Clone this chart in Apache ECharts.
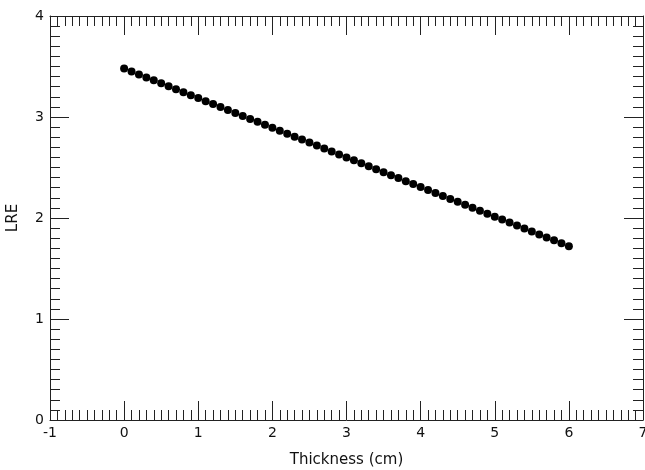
<!DOCTYPE html>
<html>
<head>
<meta charset="utf-8">
<script src="https://cdn.jsdelivr.net/npm/echarts@6/dist/echarts.min.js"></script>
<style>
html,body{margin:0;padding:0;background:#fff;}
#chart{width:645px;height:470px;}
</style>
</head>
<body>
<div id="chart"></div>
<script>
// Data
var thickness = [0.0,0.1,0.2,0.3,0.4,0.5,0.6,0.7,0.8,0.9,
  1.0,1.1,1.2,1.3,1.4,1.5,1.6,1.7,1.8,1.9,
  2.0,2.1,2.2,2.3,2.4,2.5,2.6,2.7,2.8,2.9,
  3.0,3.1,3.2,3.3,3.4,3.5,3.6,3.7,3.8,3.9,
  4.0,4.1,4.2,4.3,4.4,4.5,4.6,4.7,4.8,4.9,
  5.0,5.1,5.2,5.3,5.4,5.5,5.6,5.7,5.8,5.9,6.0];
var lre = [3.480,3.451,3.421,3.392,3.363,3.333,3.304,3.275,3.245,3.216,
  3.187,3.157,3.128,3.099,3.069,3.040,3.011,2.981,2.952,2.923,
  2.893,2.864,2.835,2.805,2.776,2.747,2.717,2.688,2.659,2.629,
  2.600,2.571,2.541,2.512,2.483,2.453,2.424,2.395,2.365,2.336,
  2.307,2.277,2.248,2.219,2.189,2.160,2.131,2.101,2.072,2.043,
  2.013,1.984,1.955,1.925,1.896,1.867,1.837,1.808,1.779,1.749,1.720];
var xTicks = [-1, 0, 1, 2, 3, 4, 5, 6, 7];
var yTicks = [0, 1, 2, 3, 4];
var xTitle = 'Thickness (cm)';
var yTitle = 'LRE';

var points = thickness.map(function (x, i) { return [x, lre[i]]; });

var lineColor = '#222';
var fontFam = 'DejaVu Sans, sans-serif';

function axisCommon(extra) {
  var base = {
    axisLine: { show: true, onZero: false, lineStyle: { color: lineColor, width: 1 } },
    axisTick: { show: true, inside: true, length: 19, lineStyle: { color: lineColor, width: 1 } },
    minorTick: { show: true, splitNumber: 10, length: 10, lineStyle: { color: lineColor, width: 1 } },
    splitLine: { show: false },
    minorSplitLine: { show: false }
  };
  for (var k in extra) base[k] = extra[k];
  return base;
}

var chart = echarts.init(document.getElementById('chart'), null, { renderer: 'canvas' });
chart.setOption({
  animation: false,
  backgroundColor: '#fff',
  grid: { left: 50, right: 2, top: 16, bottom: 50, containLabel: false, outerBoundsMode: 'none' },
  xAxis: [
    axisCommon({
      type: 'value', position: 'bottom', min: xTicks[0], max: xTicks[xTicks.length - 1], interval: 1,
      name: xTitle, nameLocation: 'middle', nameGap: 33,
      nameTextStyle: { fontFamily: fontFam, fontSize: 15, color: '#111' },
      axisLabel: { show: true, margin: 6, fontFamily: fontFam, fontSize: 14, color: '#111', hideOverlap: false }
    }),
    axisCommon({
      type: 'value', position: 'top', min: xTicks[0], max: xTicks[xTicks.length - 1], interval: 1,
      axisLabel: { show: false }
    })
  ],
  yAxis: [
    axisCommon({
      type: 'value', position: 'left', min: yTicks[0], max: yTicks[yTicks.length - 1], interval: 1,
      name: yTitle, nameLocation: 'middle', nameGap: 29, nameRotate: 90,
      nameTextStyle: { fontFamily: fontFam, fontSize: 15, color: '#111' },
      axisLabel: { show: true, margin: 6, fontFamily: fontFam, fontSize: 14, color: '#111' }
    }),
    axisCommon({
      type: 'value', position: 'right', min: yTicks[0], max: yTicks[yTicks.length - 1], interval: 1,
      axisLabel: { show: false }
    })
  ],
  series: [{
    type: 'scatter',
    xAxisIndex: 0,
    yAxisIndex: 0,
    data: points,
    symbol: 'circle',
    symbolSize: 8,
    itemStyle: { color: '#000', opacity: 1 }
  }]
});
</script>
</body>
</html>
